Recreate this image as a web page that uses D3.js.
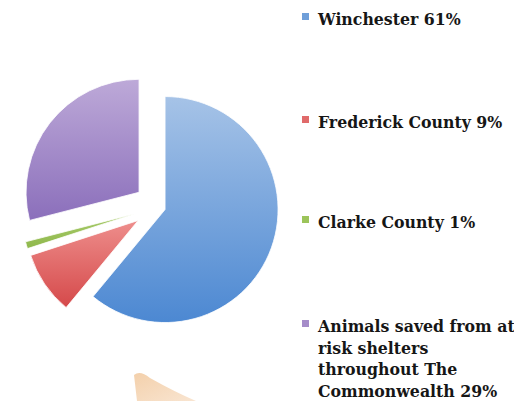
<!DOCTYPE html>
<html>
<head>
<meta charset="utf-8">
<script src="https://cdn.jsdelivr.net/npm/d3@7"></script>
<style>
  html, body { margin: 0; padding: 0; background: #fff; }
  svg { display: block; }
</style>
</head>
<body>
<div id="chart"></div>
<script>
// chart data
const categories = [
  "Winchester",
  "Frederick County",
  "Clarke County",
  "Animals saved from at risk shelters throughout The Commonwealth",
];
const percents = [61, 9, 1, 29];
const colorsTop = ["#a6c3e7", "#ee8e8c", "#a9cc6c", "#bda9d8"];
const colorsBottom = ["#4c88d2", "#d5494a", "#8fb84c", "#8b6fbb"];
const legendColors = ["#6f9fd9", "#e06a6a", "#9cc45a", "#a58cc9"];

const width = 514;
const height = 401;
const cx = 158;
const cy = 207;
const radius = 113;

const svg = d3.select("#chart").append("svg").attr("width", width).attr("height", height);
const defs = svg.append("defs");

// vertical gradient per slice, light on top
categories.forEach((c, i) => {
  const grad = defs
    .append("linearGradient")
    .attr("id", `slice-grad-${i}`)
    .attr("x1", 0).attr("y1", 0)
    .attr("x2", 0).attr("y2", 1);
  grad.append("stop").attr("offset", "0%").attr("stop-color", colorsTop[i]);
  grad.append("stop").attr("offset", "100%").attr("stop-color", colorsBottom[i]);
});

const pieData = d3
  .pie()
  .sort(null)
  .value((d) => d.value)(categories.map((name, i) => ({ name, value: percents[i] })));

const arc = d3.arc().innerRadius(0).outerRadius(radius);

// explode: the big slice just a little, the rest further out
const explode = (i) => (i === 0 ? 7.5 : 24);

const pieG = svg.append("g").attr("transform", `translate(${cx}, ${cy})`);
pieG
  .selectAll("path")
  .data(pieData)
  .join("path")
  .attr("d", arc)
  .attr("transform", (d, i) => {
    const mid = (d.startAngle + d.endAngle) / 2;
    const off = explode(i);
    return `translate(${Math.sin(mid) * off}, ${-Math.cos(mid) * off})`;
  })
  .attr("fill", (d, i) => `url(#slice-grad-${i})`)
  .attr("stroke", "#fff")
  .attr("stroke-width", 0.8);

// legend
const legendX = 318;
const legendBaselines = [25, 128, 228, 332];
const lineHeight = 21.6;
const maxTextWidth = 198;

const legend = svg.append("g").attr("class", "legend");

categories.forEach((name, i) => {
  const label = `${name} ${percents[i]}%`;
  const y0 = legendBaselines[i];

  legend
    .append("rect")
    .attr("x", 302)
    .attr("y", y0 - 12)
    .attr("width", 7)
    .attr("height", 7)
    .attr("fill", legendColors[i]);

  const text = legend
    .append("text")
    .attr("x", legendX)
    .attr("y", y0)
    .attr("font-family", "'DejaVu Serif Condensed', 'DejaVu Serif', serif")
    .attr("font-stretch", "condensed")
    .attr("font-weight", "bold")
    .attr("font-size", 17.5)
    .attr("fill", "#161616");

  // simple word wrap
  const words = label.split(" ");
  let line = [];
  let lineNo = 0;
  let tspan = text.append("tspan").attr("x", legendX).attr("y", y0);
  words.forEach((w) => {
    line.push(w);
    tspan.text(line.join(" "));
    if (tspan.node().getComputedTextLength() > maxTextWidth && line.length > 1) {
      line.pop();
      tspan.text(line.join(" "));
      line = [w];
      lineNo += 1;
      tspan = text
        .append("tspan")
        .attr("x", legendX)
        .attr("y", y0 + lineNo * lineHeight)
        .text(w);
    }
  });
});

// faded peach shape peeking in at the bottom edge
const peach = defs
  .append("linearGradient")
  .attr("id", "peach-grad")
  .attr("x1", 0).attr("y1", 0)
  .attr("x2", 1).attr("y2", 1);
peach.append("stop").attr("offset", "0%").attr("stop-color", "#f2cba2");
peach.append("stop").attr("offset", "100%").attr("stop-color", "#f8e2cc");

svg
  .append("path")
  .attr("d", "M134,375 Q140,370 150,378 Q175,392 196,401 L137,401 Z")
  .attr("fill", "url(#peach-grad)")
  .attr("opacity", 0.9);
</script>
</body>
</html>
